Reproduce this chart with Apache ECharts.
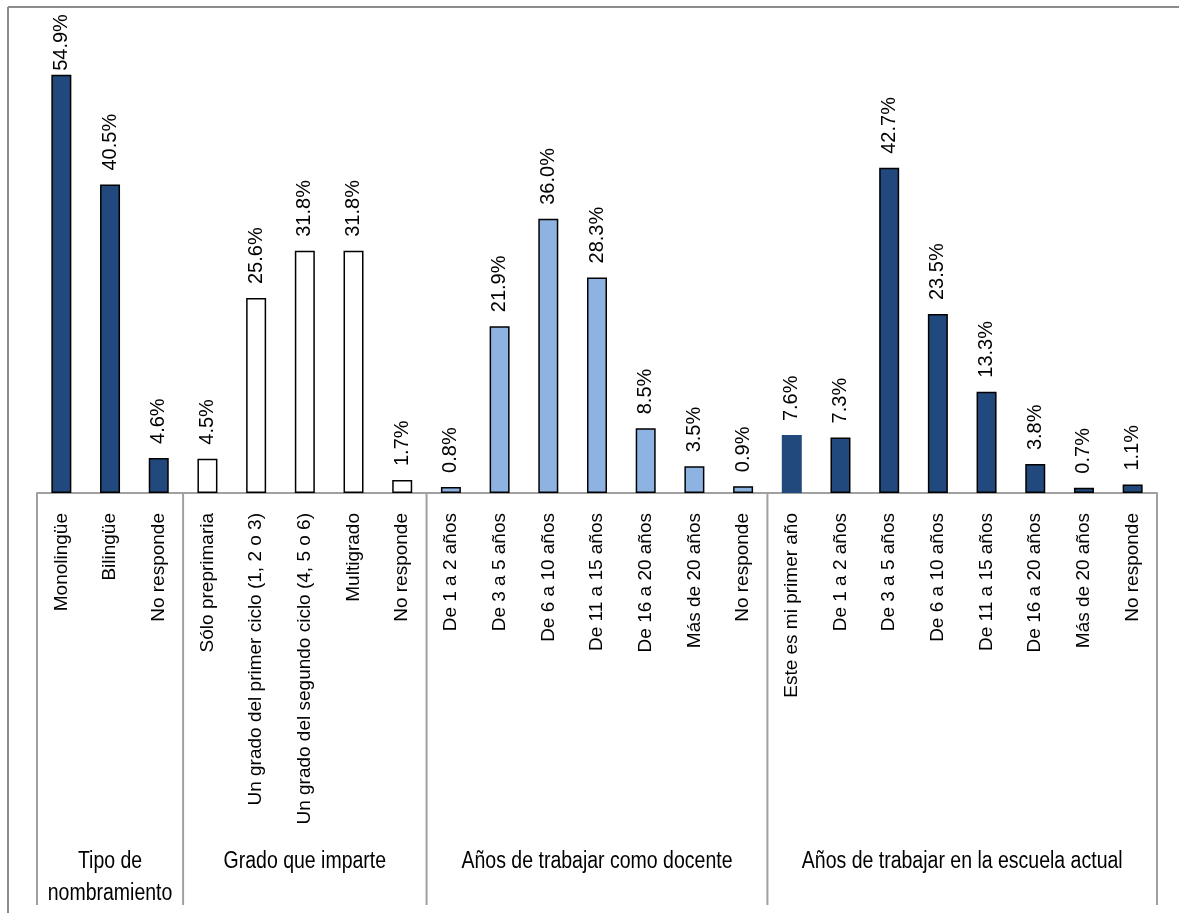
<!DOCTYPE html>
<html>
<head>
<meta charset="utf-8">
<script src="https://cdn.jsdelivr.net/npm/echarts@6/dist/echarts.min.js"></script>
<style>
html,body{margin:0;padding:0;background:#fff;}
#main{width:1179px;height:913px;}
</style>
</head>
<body>
<div id="main"></div>
<script>
// ---- data ----
const groupNames = ['Tipo de\nnombramiento', 'Grado que imparte', 'Años de trabajar como docente', 'Años de trabajar en la escuela actual'];

const catsTipo = ['Monolingüe', 'Bilingüe', 'No responde'];
const valsTipo = [54.9, 40.5, 4.6];

const catsGrado = ['Sólo preprimaria', 'Un grado del primer ciclo (1, 2 o 3)', 'Un grado del segundo ciclo (4, 5 o 6)', 'Multigrado', 'No responde'];
const valsGrado = [4.5, 25.6, 31.8, 31.8, 1.7];

const catsDocente = ['De 1 a 2 años', 'De 3 a 5 años', 'De 6 a 10 años', 'De 11 a 15 años', 'De 16 a 20 años', 'Más de 20 años', 'No responde'];
const valsDocente = [0.8, 21.9, 36.0, 28.3, 8.5, 3.5, 0.9];

const catsEscuela = ['Este es mi primer año', 'De 1 a 2 años', 'De 3 a 5 años', 'De 6 a 10 años', 'De 11 a 15 años', 'De 16 a 20 años', 'Más de 20 años', 'No responde'];
const valsEscuela = [7.6, 7.3, 42.7, 23.5, 13.3, 3.8, 0.7, 1.1];

// ---- styles ----
const DARK = '#22497d';
const LIGHT = '#8db3e2';
const WHITE = '#ffffff';
const FONT = "'Liberation Sans', Arial, sans-serif";

const groups = [
  {cats: catsTipo, vals: valsTipo, color: DARK},
  {cats: catsGrado, vals: valsGrado, color: WHITE},
  {cats: catsDocente, vals: valsDocente, color: LIGHT},
  {cats: catsEscuela, vals: valsEscuela, color: DARK}
];

const categories = [];
const barData = [];
const groupStarts = [];
groups.forEach((g, gi) => {
  groupStarts.push(categories.length);
  g.cats.forEach((c, i) => {
    const isFirstOverall = categories.length === 0;
    categories.push(c);
    const noBorder = (gi === 3 && i === 0);
    const item = {
      value: g.vals[i],
      itemStyle: {color: g.color, borderColor: '#000', borderWidth: noBorder ? 0 : 1.5}
    };
    if (isFirstOverall) item.label = {distance: 4};
    barData.push(item);
  });
});
groupStarts.push(categories.length);

const chart = echarts.init(document.getElementById('main'), null, {renderer: 'canvas'});
chart.setOption({
  animation: false,
  backgroundColor: '#fff',
  grid: {left: 37, right: 22, top: 36, bottom: 420, containLabel: false},
  xAxis: {
    type: 'category',
    data: categories,
    axisLine: {show: true, lineStyle: {color: '#a0a0a0', width: 2}},
    axisTick: {show: false},
    axisLabel: {
      interval: 0, rotate: 90, margin: 20,
      color: '#000', fontFamily: FONT, fontSize: 19
    }
  },
  yAxis: {type: 'value', min: 0, max: 60, show: false, splitLine: {show: false}},
  series: [{
    type: 'bar',
    data: barData,
    barWidth: 20,
    label: {
      show: true, position: 'top', rotate: 90, distance: 14,
      align: 'left', verticalAlign: 'middle',
      formatter: p => p.value.toFixed(1) + '%',
      color: '#000', fontFamily: FONT, fontSize: 20
    }
  }]
});

// decorations: frame, separators and group labels, placed from the category axis
const p0 = chart.convertToPixel({xAxisIndex: 0}, 0);
const p1 = chart.convertToPixel({xAxisIndex: 0}, 1);
const band = p1 - p0;
const base = chart.convertToPixel({yAxisIndex: 0}, 0);
const graphics = [
  {type: 'line', shape: {x1: 8, y1: 7, x2: 8, y2: 913}, style: {stroke: '#8c8c8c', lineWidth: 2}},
  {type: 'line', shape: {x1: 8, y1: 7, x2: 1179, y2: 7}, style: {stroke: '#8c8c8c', lineWidth: 2}}
];
groupStarts.forEach(idx => {
  const x = p0 + (idx - 0.5) * band;
  graphics.push({type: 'line', shape: {x1: x, y1: base, x2: x, y2: 905}, style: {stroke: '#a0a0a0', lineWidth: 2}});
});
groupNames.forEach((name, gi) => {
  const xa = p0 + (groupStarts[gi] - 0.5) * band;
  const xb = p0 + (groupStarts[gi + 1] - 0.5) * band;
  graphics.push({
    type: 'text', x: (xa + xb) / 2, y: 846, scaleY: 1.25,
    style: {text: name, align: 'center', verticalAlign: 'top', fill: '#000', font: '19.5px ' + FONT, lineHeight: 25}
  });
});
chart.setOption({graphic: graphics});
</script>
</body>
</html>
